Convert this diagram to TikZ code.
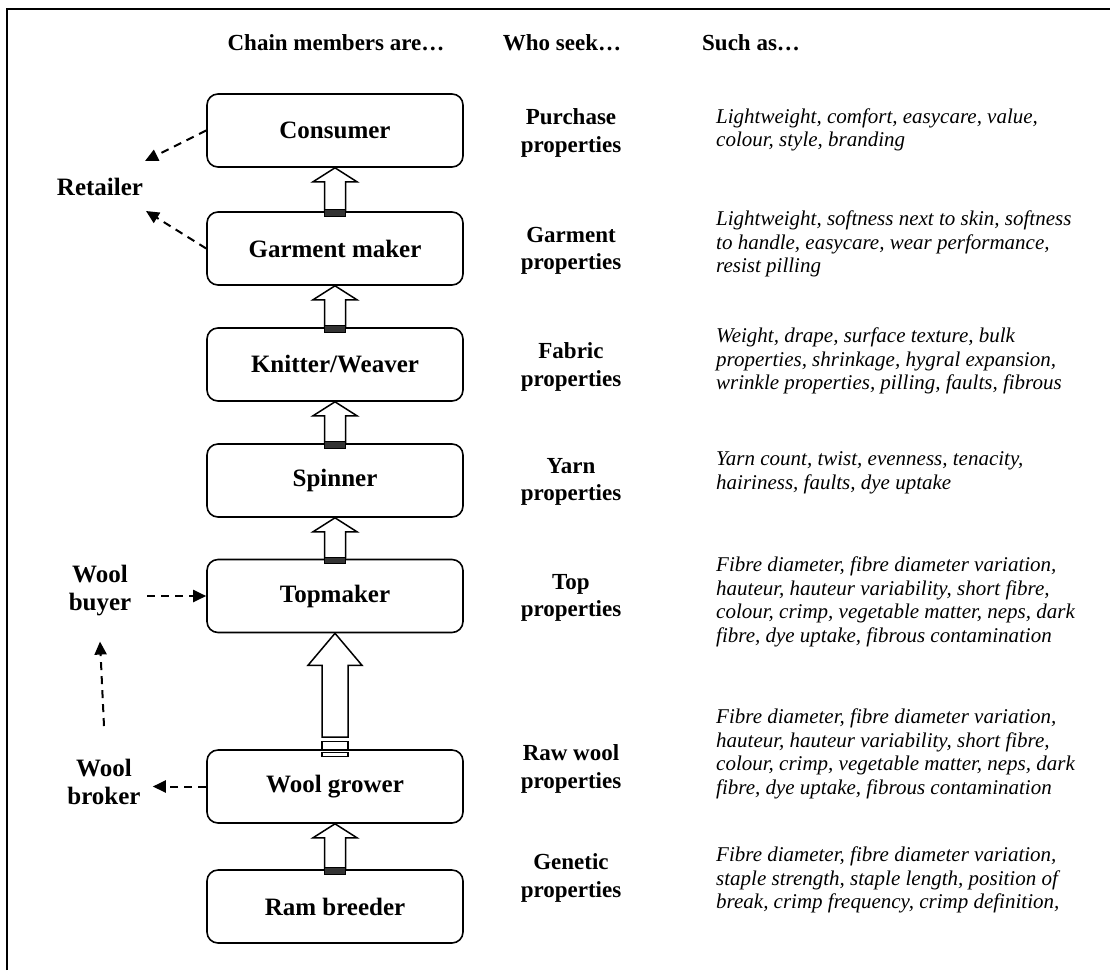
\documentclass[tikz,border=0pt]{standalone}
\usepackage{fontspec}
\setmainfont{Liberation Serif}
\usetikzlibrary{arrows.meta,calc}

% hollow upward arrow from one chain member to the next, with its foot band
\newcommand{\stagearrow}[2]{%
  \draw[blockarrow] ($(#1.north)+(-10.5,0)$) -- ($(#2.south)+(-10.5,14)$)
    -- ($(#2.south)+(-22,14)$) -- (#2.south) -- ($(#2.south)+(22,14)$)
    -- ($(#2.south)+(10.5,14)$) -- ($(#1.north)+(10.5,0)$);
  \draw[band] ($(#1.north)+(-10.5,-1.5)$) rectangle ($(#1.north)+(10.5,5)$);}

\begin{document}
\begin{tikzpicture}[x=1pt,y=-1pt,
  member/.style={draw,line width=1.6pt,rounded corners=11pt,minimum width=256pt,
    minimum height=73pt,inner sep=0pt,font=\fontsize{25}{28}\selectfont\bfseries},
  seek/.style={align=center,inner sep=0pt,font=\fontsize{23}{27.5}\selectfont\bfseries},
  such/.style={align=left,anchor=west,inner sep=0pt,font=\fontsize{21}{23.5}\selectfont\itshape},
  head/.style={inner sep=0pt,anchor=base,font=\fontsize{23}{27}\selectfont\bfseries},
  side/.style={align=center,inner sep=0pt,font=\fontsize{25}{28}\selectfont\bfseries},
  dasharrow/.style={line width=2pt,dash pattern=on 8pt off 6pt,
    -{Triangle[length=13pt,width=12pt]}},
  blockarrow/.style={draw,fill=white,line width=1.5pt,line join=miter},
  band/.style={draw,fill=black!80,line width=1.2pt}
]
\useasboundingbox (0,0) rectangle (1110,970);

% frame
\draw[line width=2pt] (7,970) -- (7,9) -- (1110,9);

% column headings
\node[head] (hmem)  at (336,50) {Chain members are…};
\node[head] (hseek) at (562,50) {Who seek…};
\node[head,anchor=base west] (hsuch) at (702,50) {Such as…};

% chain members
\node[member] (con)  at (335,130.5) {Consumer};
\node[member] (gar)  at (335,248.5) {Garment maker};
\node[member] (knit) at (335,364.5) {Knitter/Weaver};
\node[member] (spin) at (335,480.5) {Spinner};
\node[member] (top)  at (335,596)   {Topmaker};
\node[member] (grow) at (335,786.5) {Wool grower};
\node[member] (ram)  at (335,906.5) {Ram breeder};

% properties sought
\node[seek] (pcon)  at (571,133) {Purchase\\properties};
\node[seek] (pgar)  at (571,251) {Garment\\properties};
\node[seek] (pknit) at (571,367) {Fabric\\properties};
\node[seek] (pspin) at (571,482) {Yarn\\properties};
\node[seek] (ptop)  at (571,598) {Top\\properties};
\node[seek] (pgrow) at (571,769) {Raw wool\\properties};
\node[seek] (pram)  at (571,878) {Genetic\\properties};

% examples
\node[such] (econ)  at (716,130) {Lightweight, comfort, easycare, value,\\colour, style, branding};
\node[such] (egar)  at (716,244) {Lightweight, softness next to skin, softness\\to handle, easycare, wear performance,\\resist pilling};
\node[such] (eknit) at (716,361) {Weight, drape, surface texture, bulk\\properties, shrinkage, hygral expansion,\\wrinkle properties, pilling, faults, fibrous};
\node[such] (espin) at (716,473) {Yarn count, twist, evenness, tenacity,\\hairiness, faults, dye uptake};
\node[such] (etop)  at (716,602) {Fibre diameter, fibre diameter variation,\\hauteur, hauteur variability, short fibre,\\colour, crimp, vegetable matter, neps, dark\\fibre, dye uptake, fibrous contamination};
\node[such] (egrow) at (716,754) {Fibre diameter, fibre diameter variation,\\hauteur, hauteur variability, short fibre,\\colour, crimp, vegetable matter, neps, dark\\fibre, dye uptake, fibrous contamination};
\node[such] (eram)  at (716,880) {Fibre diameter, fibre diameter variation,\\staple strength, staple length, position of\\break, crimp frequency, crimp definition,};

% side parties
\node[side] (ret) at (100,187) {Retailer};
\node[side] (wb)  at (100,591) {Wool\\buyer};
\node[side] (wbr) at (104,782) {Wool\\broker};

% flow up the chain
\stagearrow{gar}{con}
\stagearrow{knit}{gar}
\stagearrow{spin}{knit}
\stagearrow{top}{spin}
\stagearrow{ram}{grow}
\draw[blockarrow] ($(grow.north)+(-13,-12)$) -- ($(top.south)+(-13,32)$)
  -- ($(top.south)+(-27,32)$) -- (top.south) -- ($(top.south)+(27,32)$)
  -- ($(top.south)+(13,32)$) -- ($(grow.north)+(13,-12)$) -- cycle;
\draw[blockarrow,line width=1.3pt] ($(grow.north)+(-13,-8)$) rectangle ($(grow.north)+(13,0)$);
\draw[blockarrow,line width=1.3pt] ($(grow.north)+(-13,3)$) rectangle ($(grow.north)+(13,7)$);

% trade links
\coordinate (rtip1) at (145,161);
\coordinate (rtip2) at (146,211);
\draw[dasharrow] (con.west) -- (rtip1);
\draw[dasharrow] (gar.west) -- (rtip2);
\draw[dasharrow] ([xshift=16pt]wb.east |- top.west) -- (top.west);
\draw[dasharrow] ([yshift=33pt]wbr.north) -- ([yshift=-25pt]wb.south);
\draw[dasharrow] (grow.west) -- ([xshift=12pt]wbr.east |- grow.west);
\end{tikzpicture}
\end{document}
